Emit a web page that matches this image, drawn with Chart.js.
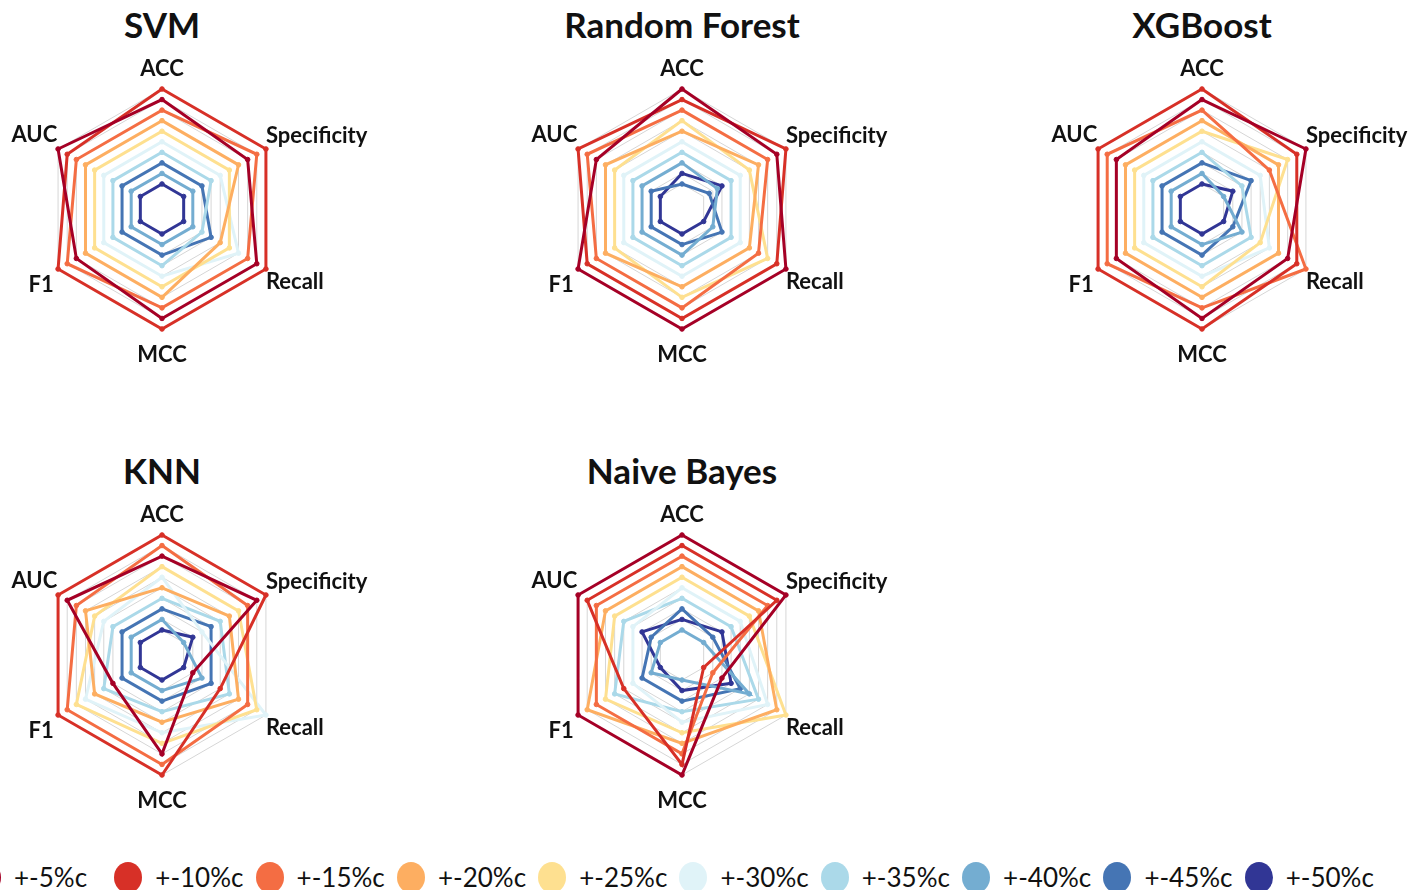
<!DOCTYPE html>
<html lang="en">
<head>
  <meta charset="UTF-8" />
  <title>Rank radar by noise level</title>
  <script src="https://cdn.jsdelivr.net/npm/chart.js"></script>
  <style>
    body {
      margin: 0;
      width: 1424px;
      height: 890px;
      background: #fff;
      overflow: hidden;
      position: relative;
      font-family: Lato, "Open Sans", sans-serif;
      color: #111;
    }
    .title {
      position: absolute;
      width: 400px;
      margin-left: -200px;
      text-align: center;
      font-size: 35px;
      line-height: 35px;
      font-weight: bold;
    }
    .panel {
      position: absolute;
    }
    .legend {
      position: absolute;
      left: -27px;
      top: 862px;
      display: flex;
      white-space: nowrap;
    }
    .legend .item {
      width: 141.3px;
      display: flex;
      align-items: center;
      flex: none;
    }
    .legend .dot {
      width: 28px;
      height: 31px;
      border-radius: 50%;
      margin-right: 13px;
      flex: none;
    }
    .legend span {
      font-size: 26px;
      line-height: 31px;
    }
  </style>
</head>
<body>
  <div id="root"></div>
  <div class="legend" id="legend"></div>

  <script>
    const metrics = ['ACC', 'Specificity', 'Recall', 'MCC', 'F1', 'AUC'];
    const seriesNames = ['+-5%c', '+-10%c', '+-15%c', '+-20%c', '+-25%c',
                         '+-30%c', '+-35%c', '+-40%c', '+-45%c', '+-50%c'];
    const seriesColors = ['#a50026', '#d73027', '#f46d43', '#fdae61', '#fee090',
                          '#e0f3f8', '#abd9e9', '#74add1', '#4575b4', '#313695'];
    const rankLevels = [1, 2, 3, 4, 5, 6, 7, 8, 9, 10];

    // one row per noise level, columns follow metrics
    const svmRanks = [
      [9, 8, 9, 9, 8, 10],
      [10, 10, 10, 10, 10, 9],
      [8, 9, 8, 8, 9, 8],
      [7, 7, 5, 7, 7, 7],
      [6, 6, 6, 6, 6, 6],
      [5, 5, 7, 5, 5, 5],
      [4, 4, 3, 4, 4, 4],
      [2, 2, 2, 2, 2, 2],
      [3, 3, 4, 3, 3, 3],
      [1, 1, 1, 1, 1, 1]
    ];
    const rfRanks = [
      [10, 9, 10, 10, 10, 8],
      [9, 10, 9, 9, 9, 10],
      [8, 8, 7, 8, 8, 9],
      [6, 7, 6, 6, 7, 7],
      [7, 6, 8, 7, 6, 6],
      [5, 5, 5, 5, 5, 5],
      [4, 4, 4, 4, 4, 4],
      [3, 2.5, 2, 3, 3, 3],
      [1, 1.6, 3, 2, 2, 2],
      [2, 3, 1, 1, 1, 1]
    ];
    const xgbRanks = [
      [9, 10, 8, 9, 8, 8],
      [10, 9, 9, 10, 10, 10],
      [8, 6, 10, 8, 9, 9],
      [7, 7, 7, 7, 7, 7],
      [6, 8, 5, 6, 6, 6],
      [5, 5, 6, 5, 5, 5],
      [4, 3, 4, 4, 4, 4],
      [2, 1, 3, 2, 2, 2],
      [3, 4, 2, 3, 3, 3],
      [1, 2, 1, 1, 1, 1]
    ];
    const knnRanks = [
      [8, 9, 2, 8, 4, 9],
      [10, 10, 5, 10, 10, 10],
      [9, 8, 8, 9, 9, 8],
      [5, 6, 7, 5, 6, 7],
      [7, 7, 9, 7, 8, 6],
      [6, 3, 10, 6, 7, 5],
      [4, 5, 6, 4, 5, 4],
      [2, 1, 3, 2, 2, 2],
      [3, 4, 4, 3, 3, 3],
      [1, 2, 1, 1, 1, 1]
    ];
    const nbRanks = [
      [10, 10, 3, 10, 10, 10],
      [9, 9, 1, 9, 5, 9],
      [8, 8, 2, 8, 8, 8],
      [7, 7, 9, 7, 9, 7],
      [6, 6, 10, 6, 7, 6],
      [5, 5, 8, 5, 4, 4],
      [4, 4, 7, 4, 6, 5],
      [1, 1, 6, 1, 2, 1],
      [3, 2, 5, 3, 3, 2],
      [2, 3, 4, 2, 1, 3]
    ];

    const panels = [
      { name: 'SVM', ranks: svmRanks, cx: 162, cy: 210 },
      { name: 'Random Forest', ranks: rfRanks, cx: 682, cy: 210 },
      { name: 'XGBoost', ranks: xgbRanks, cx: 1202, cy: 210 },
      { name: 'KNN', ranks: knnRanks, cx: 162, cy: 656 },
      { name: 'Naive Bayes', ranks: nbRanks, cx: 682, cy: 656 }
    ];

    // scale floor below rank 1 so the innermost ring keeps some room
    const rankMin = -1.37;
    const panelW = 500;
    const panelH = 318;
    // the scale nudges its centre up by half the top/bottom gap difference
    const centreOffset = 3;
    // gap between outer ring and each axis name, in metrics order
    const labelGap = [6.6, 0, 0, 12.6, 5, 1];

    const root = document.getElementById('root');

    function buildRadar(canvas, ranks) {
      return new Chart(canvas, {
        type: 'radar',
        data: {
          labels: metrics,
          datasets: ranks.map((row, i) => ({
            label: seriesNames[i],
            data: row,
            borderColor: seriesColors[i],
            backgroundColor: seriesColors[i],
            pointBackgroundColor: seriesColors[i],
            pointBorderColor: seriesColors[i],
            borderWidth: 3,
            pointRadius: 2.3,
            pointBorderWidth: 1,
            fill: false
          }))
        },
        options: {
          responsive: false,
          animation: false,
          devicePixelRatio: 1,
          plugins: {
            legend: { display: false },
            tooltip: { enabled: false }
          },
          scales: {
            r: {
              min: rankMin,
              max: 10,
              afterBuildTicks: scale => {
                scale.ticks = rankLevels.map(v => ({ value: v }));
              },
              ticks: { display: false },
              grid: { color: '#d6d6d6', lineWidth: 1 },
              angleLines: { display: false },
              pointLabels: {
                padding: ctx => labelGap[ctx.index],
                color: '#111',
                font: { family: 'Lato', size: 22, weight: 'bold', lineHeight: 1.2 }
              }
            }
          }
        }
      });
    }

    panels.forEach(p => {
      const title = document.createElement('div');
      title.className = 'title';
      title.textContent = p.name;
      title.style.left = p.cx + 'px';
      title.style.top = (p.cy - 203) + 'px';
      root.appendChild(title);

      const canvas = document.createElement('canvas');
      canvas.className = 'panel';
      canvas.width = panelW;
      canvas.height = panelH;
      canvas.style.left = (p.cx - panelW / 2) + 'px';
      canvas.style.top = (p.cy - panelH / 2 + centreOffset) + 'px';
      root.appendChild(canvas);

      buildRadar(canvas, p.ranks);
    });

    const legend = document.getElementById('legend');
    seriesNames.forEach((name, i) => {
      const item = document.createElement('div');
      item.className = 'item';
      const dot = document.createElement('div');
      dot.className = 'dot';
      dot.style.background = seriesColors[i];
      const text = document.createElement('span');
      text.textContent = name;
      item.appendChild(dot);
      item.appendChild(text);
      legend.appendChild(item);
    });
  </script>
</body>
</html>
